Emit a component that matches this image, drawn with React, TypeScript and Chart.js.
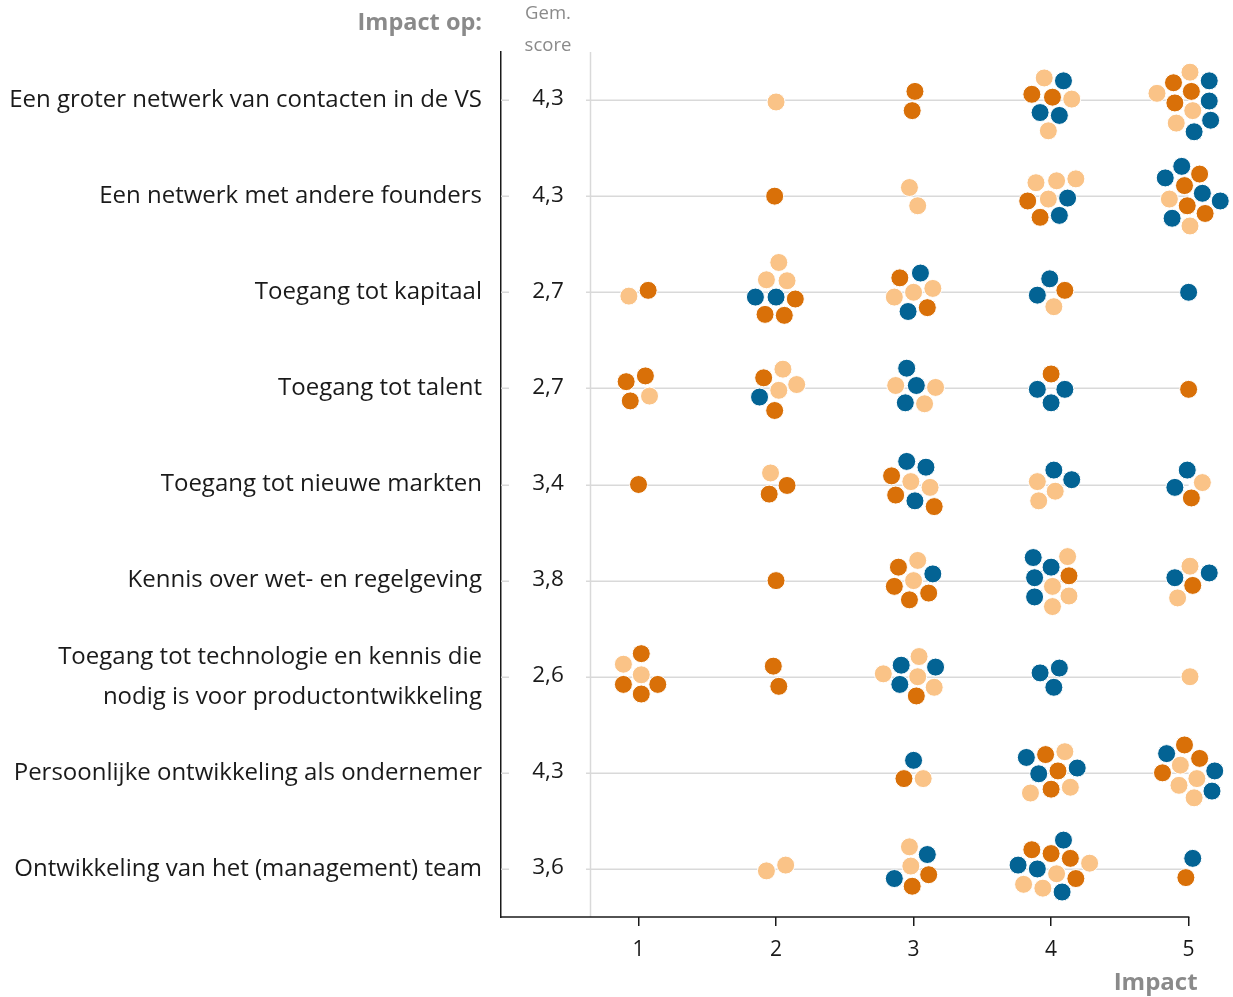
import React, { useEffect, useRef } from 'react';
import { Chart, registerables } from 'chart.js';

Chart.register(...registerables);

// ---------- data ----------
const categories: (string | string[])[] = [
  'Een groter netwerk van contacten in de VS',
  'Een netwerk met andere founders',
  'Toegang tot kapitaal',
  'Toegang tot talent',
  'Toegang tot nieuwe markten',
  'Kennis over wet- en regelgeving',
  ['Toegang tot technologie en kennis die', 'nodig is voor productontwikkeling'],
  'Persoonlijke ontwikkeling als ondernemer',
  'Ontwikkeling van het (management) team',
];

const averageScores = ['4,3', '4,3', '2,7', '2,7', '3,4', '3,8', '2,6', '4,3', '3,6'];

const impactTicks = [1, 2, 3, 4, 5];

// each point: [impact (with swarm jitter), row (with swarm jitter)]
const lightOrange: [number, number][] = [
  [2.0, 0.02], [3.95, -0.23], [4.15, -0.01], [3.98, 0.32], [5.01, -0.29], [4.77, -0.07], [5.03, 0.11], [4.91, 0.24],
  [2.97, 0.91], [3.03, 1.1], [3.89, 0.86], [4.04, 0.84], [4.18, 0.82], [3.98, 1.03], [4.86, 1.03], [5.01, 1.31],
  [0.93, 2.04], [2.02, 1.69], [1.93, 1.87], [2.08, 1.88], [2.86, 2.05], [3.0, 2.0], [3.14, 1.96], [4.02, 2.15],
  [1.08, 3.08], [2.05, 2.8], [2.15, 2.96], [2.02, 3.02], [2.87, 2.97], [3.16, 2.99], [3.08, 3.16],
  [1.96, 3.88], [2.98, 3.97], [3.12, 4.03], [3.9, 3.97], [4.03, 4.07], [3.91, 4.17], [5.1, 3.98],
  [3.03, 4.79], [3.0, 5.0], [4.12, 4.75], [4.01, 5.06], [4.13, 5.16], [4.01, 5.27], [5.01, 4.85], [4.92, 5.18],
  [0.89, 5.87], [1.02, 5.98], [3.04, 5.79], [2.78, 5.97], [3.03, 6.0], [3.15, 6.11], [5.01, 6.0],
  [3.07, 7.06], [4.1, 6.78], [3.85, 7.21], [4.14, 7.15], [4.94, 6.92], [5.06, 7.06], [4.93, 7.13], [5.04, 7.26],
  [1.93, 8.02], [2.07, 7.96], [2.97, 7.77], [2.98, 7.97], [4.28, 7.94], [4.04, 8.05], [3.8, 8.16], [3.94, 8.2],
];

const darkOrange: [number, number][] = [
  [3.01, -0.09], [2.99, 0.11], [3.86, -0.06], [4.01, -0.03], [4.89, -0.18], [5.02, -0.09], [4.9, 0.03],
  [1.99, 1.0], [3.83, 1.05], [3.92, 1.22], [5.08, 0.77], [4.97, 0.89], [4.99, 1.1], [5.12, 1.18],
  [1.07, 1.98], [2.14, 2.07], [1.92, 2.23], [2.06, 2.24], [2.9, 1.85], [3.1, 2.16], [4.1, 1.98],
  [0.91, 2.93], [1.05, 2.87], [0.94, 3.13], [1.91, 2.89], [1.99, 3.23], [4.0, 2.85], [5.0, 3.01],
  [1.0, 4.0], [2.08, 4.01], [1.95, 4.1], [2.84, 3.91], [2.87, 4.11], [3.15, 4.23], [5.02, 4.14],
  [2.0, 5.0], [2.89, 4.86], [2.86, 5.06], [3.11, 5.13], [2.97, 5.2], [4.13, 4.95], [5.03, 5.05],
  [1.02, 5.76], [0.89, 6.08], [1.14, 6.08], [1.02, 6.18], [1.98, 5.89], [2.02, 6.1], [3.02, 6.2],
  [2.93, 7.06], [3.96, 6.81], [4.05, 6.98], [4.0, 7.17], [4.97, 6.71], [5.08, 6.85], [4.81, 7.0],
  [3.11, 8.06], [2.99, 8.18], [3.86, 7.8], [4.0, 7.84], [4.14, 7.89], [4.18, 8.1], [4.98, 8.09],
];

const blue: [number, number][] = [
  [4.09, -0.2], [3.92, 0.13], [4.06, 0.16], [5.15, -0.2], [5.15, 0.01], [5.16, 0.21], [5.04, 0.33],
  [4.12, 1.02], [4.06, 1.2], [4.95, 0.69], [4.83, 0.81], [5.1, 0.97], [5.23, 1.05], [4.88, 1.23],
  [1.85, 2.05], [2.0, 2.05], [3.05, 1.8], [2.96, 2.2], [3.99, 1.86], [3.9, 2.03], [5.0, 2.0],
  [1.88, 3.09], [2.95, 2.79], [3.02, 2.97], [2.94, 3.15], [3.9, 3.01], [4.1, 3.01], [4.0, 3.15],
  [2.95, 3.76], [3.09, 3.82], [3.01, 4.17], [4.02, 3.85], [4.15, 3.95], [4.99, 3.85], [4.9, 4.03],
  [3.14, 4.93], [3.87, 4.76], [4.0, 4.86], [3.88, 4.97], [3.88, 5.17], [5.15, 4.92], [4.9, 4.97],
  [2.91, 5.88], [3.16, 5.9], [2.9, 6.08], [3.92, 5.96], [4.06, 5.91], [4.02, 6.11],
  [3.0, 6.87], [3.82, 6.84], [3.91, 7.01], [4.19, 6.95], [4.84, 6.8], [5.19, 6.98], [5.17, 7.19],
  [3.1, 7.85], [2.86, 8.1], [4.09, 7.7], [3.76, 7.96], [3.9, 8.0], [4.08, 8.24], [5.03, 7.89],
];

const dividerValue = 0.65;
const axisEndValue = 5;
const xMax = 5.25;

// ---------- styling ----------
const FONT = "'Open Sans', Lato, 'DejaVu Sans', sans-serif";
const TEXT = '#1a1a1a';
const GREY = '#8a8a8a';
const GRID = '#d9d9d9';
const COLORS = { light: '#FAC387', dark: '#D97008', blue: '#036394' };

const overlayPlugin = {
  id: 'overlay',
  beforeDatasetsDraw(chart: any) {
    const { ctx, chartArea, scales } = chart;
    const x = scales.x;
    const y = scales.y;
    const xEnd = x.getPixelForValue(axisEndValue);
    ctx.save();
    // horizontal row grid lines
    ctx.strokeStyle = GRID;
    ctx.lineWidth = 1.5;
    categories.forEach((_, i) => {
      const py = Math.round(y.getPixelForValue(i)) + 0.25;
      ctx.beginPath();
      ctx.moveTo(chartArea.left, py);
      ctx.lineTo(xEnd, py);
      ctx.stroke();
    });
    // divider next to the score column
    const px = Math.round(x.getPixelForValue(dividerValue)) + 0.5;
    ctx.beginPath();
    ctx.moveTo(px, chartArea.top);
    ctx.lineTo(px, chartArea.bottom);
    ctx.stroke();
    // x axis line, ending at the last tick
    ctx.strokeStyle = TEXT;
    ctx.lineWidth = 1.5;
    ctx.beginPath();
    ctx.moveTo(chartArea.left, chartArea.bottom);
    ctx.lineTo(xEnd + 0.75, chartArea.bottom);
    ctx.stroke();
    ctx.restore();
  },
  afterDraw(chart: any) {
    const { ctx, chartArea, scales } = chart;
    const y = scales.y;
    const left = chartArea.left;
    const colCenter = left + 47;
    ctx.save();
    ctx.textAlign = 'center';
    ctx.textBaseline = 'middle';
    averageScores.forEach((s, i) => {
      const py = y.getPixelForValue(i);
      ctx.fillStyle = '#ffffff';
      ctx.fillRect(left + 8, py - 13, 77, 26);
      ctx.fillStyle = TEXT;
      ctx.font = `22.5px ${FONT}`;
      ctx.fillText(s, colCenter, py - 1);
    });
    // column headers
    ctx.fillStyle = GREY;
    ctx.font = `18.5px ${FONT}`;
    ctx.fillText('Gem.', colCenter, 14);
    ctx.fillText('score', colCenter, 46);
    ctx.font = `bold 23.5px ${FONT}`;
    ctx.textAlign = 'right';
    ctx.fillText('Impact op:', left - 19, 23);
    // x axis title
    ctx.font = `bold 24px ${FONT}`;
    ctx.textAlign = 'right';
    ctx.fillText('Impact', scales.x.getPixelForValue(axisEndValue) + 9, 983);
    ctx.restore();
  },
};

const toPoints = (arr: [number, number][]) => arr.map(([x, y]) => ({ x, y }));

export default function App() {
  const canvasRef = useRef<HTMLCanvasElement | null>(null);

  useEffect(() => {
    if (!canvasRef.current) return;
    const dotStyle = { pointRadius: 9, pointHoverRadius: 9, borderWidth: 1, borderColor: '#ffffff', clip: false as any };
    const chart = new Chart(canvasRef.current, {
      type: 'scatter',
      data: {
        datasets: [
          { label: 'lichtoranje', data: toPoints(lightOrange), backgroundColor: COLORS.light, ...dotStyle },
          { label: 'donkeroranje', data: toPoints(darkOrange), backgroundColor: COLORS.dark, ...dotStyle },
          { label: 'blauw', data: toPoints(blue), backgroundColor: COLORS.blue, ...dotStyle },
        ],
      },
      options: {
        animation: false,
        responsive: false,
        events: [],
        layout: { padding: { top: 52, right: 7, bottom: 0, left: 0 } },
        plugins: { legend: { display: false }, tooltip: { enabled: false } },
        scales: {
          x: {
            type: 'linear',
            min: 0,
            max: xMax,
            afterBuildTicks: (s: any) => {
              s.ticks = impactTicks.map((v) => ({ value: v }));
            },
            afterFit: (s: any) => {
              s.height = 80;
            },
            grid: { display: true, drawOnChartArea: false, drawTicks: true, tickLength: 9, color: TEXT, lineWidth: 1.5 },
            border: { display: false },
            ticks: {
              color: TEXT,
              font: { family: FONT, size: 21 },
              padding: 11,
              autoSkip: false,
              maxRotation: 0,
              callback: (v: any) => String(v),
            },
          },
          y: {
            type: 'linear',
            min: -0.5,
            max: 8.5,
            reverse: true,
            afterBuildTicks: (s: any) => {
              s.ticks = categories.map((_, i) => ({ value: i }));
            },
            afterFit: (s: any) => {
              s.width = 501;
            },
            grid: { display: false, drawTicks: false },
            border: { display: true, color: TEXT, width: 1.5 },
            ticks: {
              color: TEXT,
              font: { family: FONT, size: 24, lineHeight: 1.67 },
              padding: 19,
              autoSkip: false,
              callback: (v: any) => categories[v as number] as any,
            },
          },
        },
      },
      plugins: [overlayPlugin],
    });
    return () => chart.destroy();
  }, []);

  return (
    <div style={{ position: 'absolute', left: 0, top: 0, width: 1233, height: 997, background: '#fff' }}>
      <canvas ref={canvasRef} width={1233} height={997} />
    </div>
  );
}
